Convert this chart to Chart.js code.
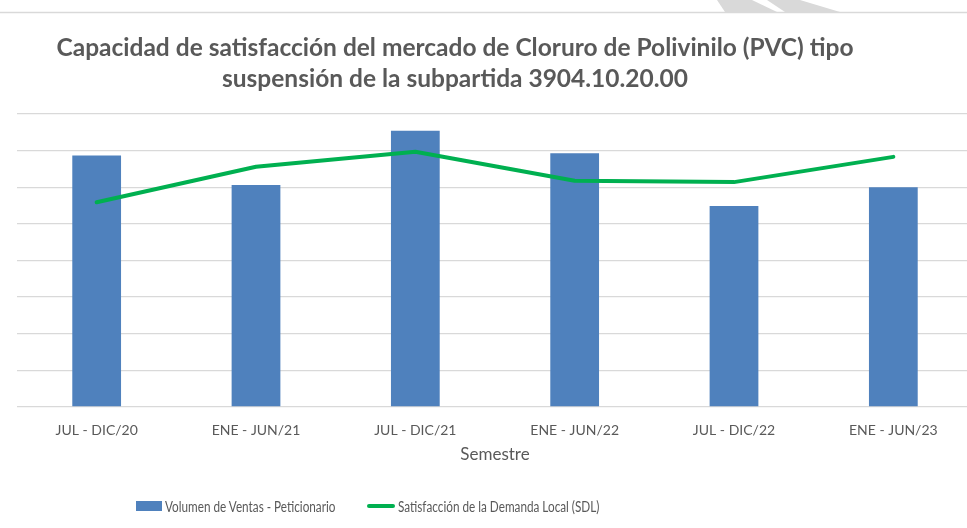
<!DOCTYPE html>
<html>
<head>
<meta charset="utf-8">
<title>Capacidad de satisfacción del mercado - PVC tipo suspensión</title>
<script src="https://cdn.jsdelivr.net/npm/chart.js@4.4.0/dist/chart.umd.min.js"></script>
<style>
    html, body { margin: 0; padding: 0; background: #fff; overflow: hidden; }
    #wrap { position: relative; width: 967px; height: 528px; overflow: hidden; font-family: Lato, "Liberation Sans", sans-serif; color: #595959; }
    #chart { position: absolute; left: 0; top: 0; }
    #title { position: absolute; left: 0; top: 31px; width: 910px; text-align: center; font-weight: bold; font-size: 24.5px; line-height: 31px; }
    .legend-item { position: absolute; top: 497px; height: 18px; display: flex; align-items: center; font-size: 14.5px; white-space: nowrap; }
    /* legend text is set a little condensed */
    .legend-item .txt { display: inline-block; transform: scaleX(0.81); transform-origin: left center; }
    .swatch-bar { width: 26px; height: 10px; background: #4f81bd; margin-right: 3px; }
    .swatch-line { width: 28px; height: 4px; background: #00b050; border-radius: 2px; margin-right: 3px; }
</style>
</head>
<body>
<div id="wrap">
    <canvas id="chart" width="980" height="528"></canvas>
    <div id="title">Capacidad de satisfacción del mercado de Cloruro de Polivinilo (PVC) tipo<br>suspensión de la subpartida 3904.10.20.00</div>
    <div class="legend-item" style="left:136px"><span class="swatch-bar"></span><span class="txt">Volumen de Ventas - Peticionario</span></div>
    <div class="legend-item" style="left:367px"><span class="swatch-line"></span><span class="txt">Satisfacción de la Demanda Local (SDL)</span></div>
</div>
<script>
// Semesters on the x axis
const semestres = ['JUL - DIC/20', 'ENE - JUN/21', 'JUL - DIC/21', 'ENE - JUN/22', 'JUL - DIC/22', 'ENE - JUN/23'];

// Sales volume of the petitioner (bars)
const volumenVentas = [6.87, 6.06, 7.54, 6.93, 5.49, 6.00];

// Local demand satisfaction (line)
const satisfaccionSDL = [5.59, 6.56, 6.97, 6.18, 6.14, 6.83];

const COLORS = {
    bar: '#4f81bd',
    line: '#00b050',
    grid: '#d9d9d9',
    text: '#595959'
};

// thin frame line and the grey diagonal shapes along the top edge
const topDecor = {
    id: 'topDecor',
    beforeDraw(chart) {
        const ctx = chart.ctx;
        ctx.save();
        ctx.fillStyle = '#d9d9d9';
        ctx.beginPath();
        ctx.moveTo(717, 0); ctx.lineTo(752, 0); ctx.lineTo(777, 12); ctx.lineTo(725, 12);
        ctx.closePath();
        ctx.fill();
        ctx.beginPath();
        ctx.moveTo(767, 0); ctx.lineTo(800, 0); ctx.lineTo(840, 12); ctx.lineTo(785, 12);
        ctx.closePath();
        ctx.fill();
        ctx.strokeStyle = '#d9d9d9';
        ctx.lineWidth = 1.5;
        ctx.beginPath();
        ctx.moveTo(0, 12.5);
        ctx.lineTo(chart.width, 12.5);
        ctx.stroke();
        ctx.restore();
    }
};

const chart = new Chart('chart', {
    data: {
        labels: semestres,
        datasets: [{
            type: 'line',
            label: 'Satisfacción de la Demanda Local (SDL)',
            data: satisfaccionSDL,
            borderColor: COLORS.line,
            backgroundColor: COLORS.line,
            borderWidth: 4,
            borderCapStyle: 'round',
            borderJoinStyle: 'round',
            pointRadius: 0,
            tension: 0,
            order: 0
        }, {
            type: 'bar',
            label: 'Volumen de Ventas - Peticionario',
            data: volumenVentas,
            backgroundColor: COLORS.bar,
            borderWidth: 0,
            categoryPercentage: 1,
            barPercentage: 0.306,
            order: 1
        }]
    },
    options: {
        responsive: false,
        animation: false,
        layout: {
            padding: { top: 114, left: 17, right: 7, bottom: 60 }
        },
        scales: {
            x: {
                grid: { display: false },
                border: { display: false },
                ticks: {
                    color: COLORS.text,
                    font: { family: 'Lato', size: 14 },
                    padding: 7,
                    maxRotation: 0,
                    autoSkip: false
                },
                title: {
                    display: true,
                    text: 'Semestre',
                    color: COLORS.text,
                    font: { family: 'Lato', size: 17 },
                    padding: { top: 4, bottom: 3 }
                },
                afterFit: (scale) => { scale.height = 61; }
            },
            y: {
                min: 0,
                max: 8,
                ticks: { display: false, stepSize: 1 },
                border: { display: false },
                grid: { color: COLORS.grid, lineWidth: 1.3, drawTicks: false },
                afterFit: (scale) => { scale.width = 0; }
            }
        },
        plugins: {
            legend: { display: false },
            title: { display: false },
            tooltip: { enabled: false }
        }
    },
    plugins: [topDecor]
});
</script>
</body>
</html>
